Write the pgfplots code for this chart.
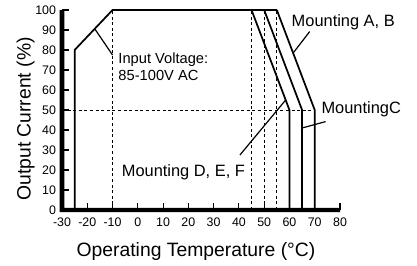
\documentclass[border=0pt]{standalone}
\usepackage{fontspec}
\setmainfont{Liberation Sans}
\usepackage{pgfplots}
\pgfplotsset{compat=1.18}
\begin{document}
\begin{tikzpicture}
\begin{axis}[
  scale only axis, width=208.5pt, height=150pt,
  xmin=-30, xmax=80, ymin=0, ymax=100,
  axis x line*=bottom, axis y line*=left,
  axis line style={-},
  xtick={-30,-20,...,80}, ytick={0,10,...,100},
  tick align=inside,
  major tick length=5pt,
  tick style={black, line width=0.8pt},
  ticklabel style={font=\fontsize{9.3}{11}\selectfont},
  /pgf/number format/assume math mode=true,
  xticklabel style={yshift=-2pt},
  yticklabel style={xshift=-1pt},
  clip=false,
  xlabel={Operating Temperature (°C)},
  ylabel={Output Current (\%)},
  label style={font=\fontsize{14.5}{17}\selectfont},
  xlabel style={at={(axis description cs:0.482,-0.23)}, anchor=base},
  ylabel style={at={(axis description cs:-0.1127,0.455)}, anchor=base},
]
% dashed guides
\addplot[black, line width=0.7pt, dash pattern=on 2.2pt off 2pt] coordinates {(-10,0)(-10,100)};
\addplot[black, line width=0.7pt, dash pattern=on 2.2pt off 2pt] coordinates {(45,0)(45,100)};
\addplot[black, line width=0.7pt, dash pattern=on 2.2pt off 2pt] coordinates {(50,0)(50,100)};
\addplot[black, line width=0.7pt, dash pattern=on 2.2pt off 2pt] coordinates {(55,0)(55,100)};
\addplot[black, line width=0.7pt, dash pattern=on 2.2pt off 2pt] coordinates {(-30,50)(70,50)};
% derating curves
\addplot[black, line width=1.3pt] coordinates {(-25,0)(-25,80)(-10,100)(55,100)};
\addplot[black, line width=1.3pt] coordinates {(45,100)(58.5,55)(60,50)(60,0)};
\addplot[black, line width=1.3pt] coordinates {(50,100)(63.5,55)(65,50)(65,0)};
\addplot[black, line width=1.3pt] coordinates {(55,100)(68.5,55)(70,50)(70,0)};
% pointers
\addplot[black, line width=0.9pt] coordinates {(-17,90.5)(-10,77.5)};
\addplot[black, line width=0.9pt] coordinates {(68,89.2)(61.4,78.4)};
\addplot[black, line width=0.9pt] coordinates {(74.3,44.2)(65,41)};
\addplot[black, line width=0.9pt] coordinates {(40.4,27.5)(58.5,55)};
% thick axis lines as a filled L shape
\addplot[fill=black, draw=none] coordinates {(-30.9,-1.1)(80,-1.1)(80,1.1)(-29.1,1.1)(-29.1,100)(-30.9,100)} --cycle;
% texts
\node[anchor=base west, inner sep=0pt, font=\fontsize{11}{13}\selectfont] at (axis cs:-7.75,73.3) {Input Voltage:};
\node[anchor=base west, inner sep=0pt, font=\fontsize{11}{13}\selectfont] at (axis cs:-7.75,65) {85-100V AC};
\node[anchor=base west, inner sep=0pt, font=\fontsize{12.3}{14}\selectfont] at (axis cs:60.8,91.6) {Mounting A, B};
\node[anchor=base west, inner sep=0pt, font=\fontsize{12.3}{14}\selectfont] at (axis cs:72.6,48.3) {MountingC};
\node[anchor=base west, inner sep=0pt, font=\fontsize{12.3}{14}\selectfont] at (axis cs:-6.4,16.7) {Mounting D, E, F};
\end{axis}
\pgfresetboundingbox
\path[use as bounding box] ([xshift=-46.5pt,yshift=-41.25pt]current axis.south west) rectangle ([xshift=57.75pt,yshift=7.5pt]current axis.north east);
\end{tikzpicture}
\end{document}
